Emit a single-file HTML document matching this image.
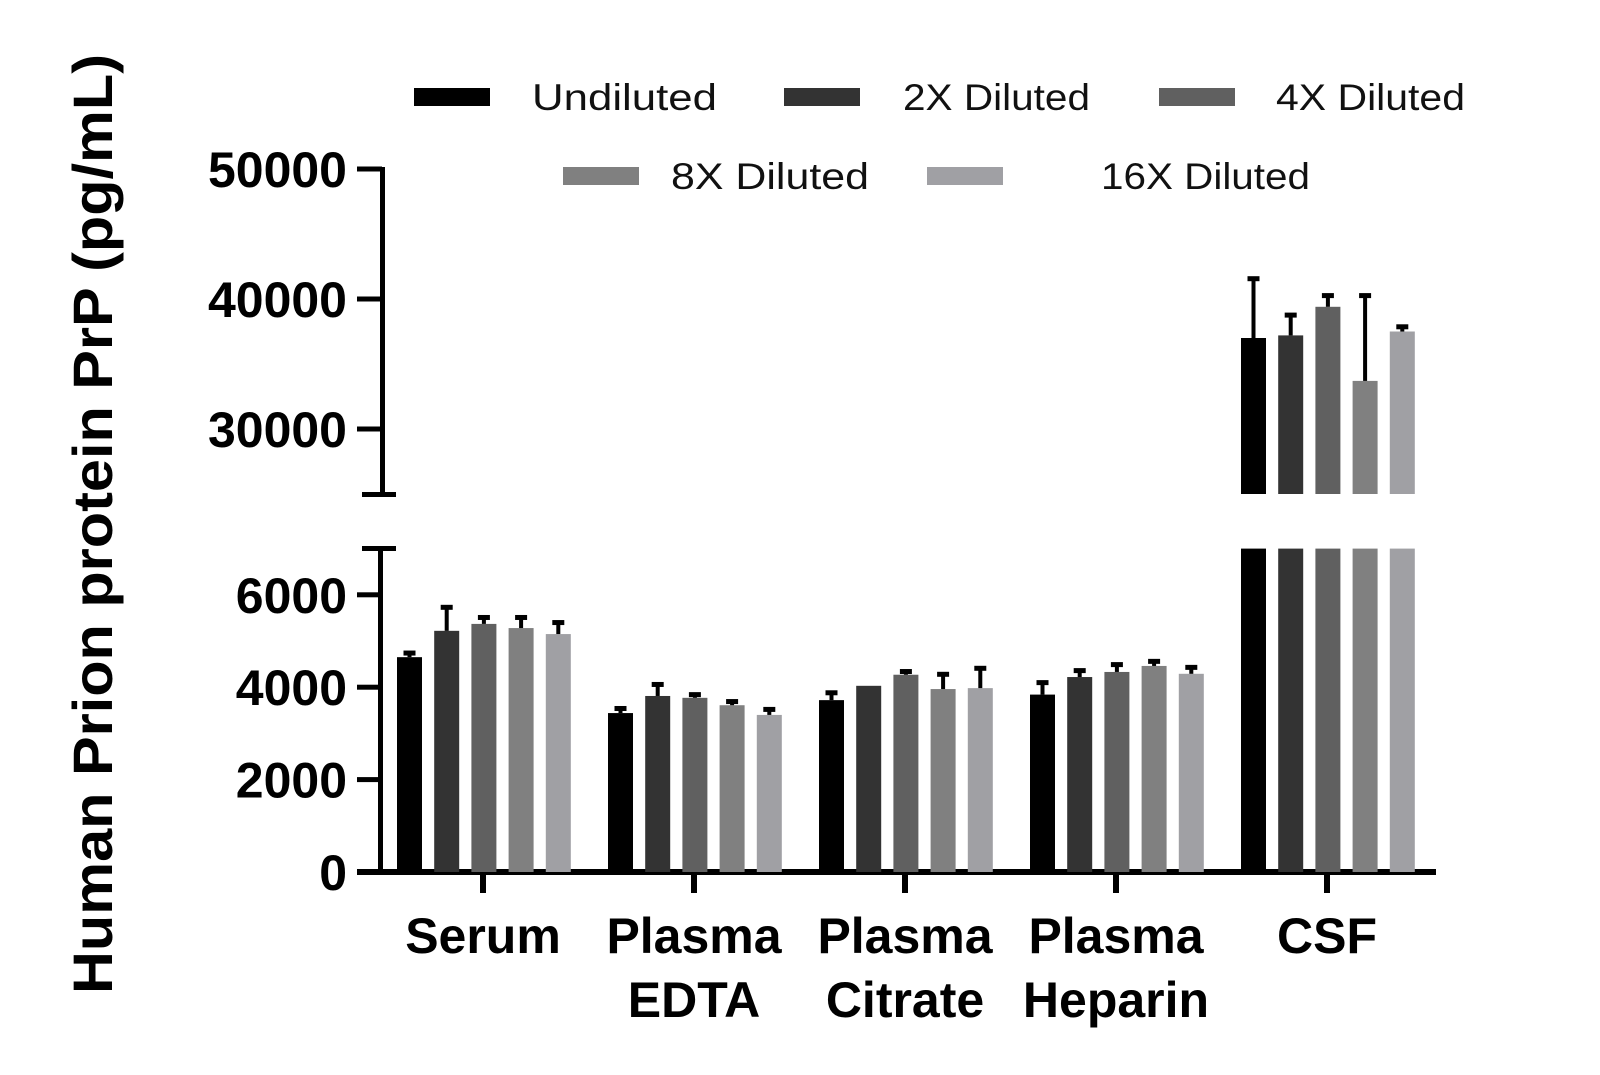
<!DOCTYPE html>
<html><head><meta charset="utf-8"><style>
html,body{margin:0;padding:0;background:#fff;}
svg{display:block;font-family:"Liberation Sans",sans-serif;}
</style></head><body>
<svg id="chart" width="1600" height="1075" viewBox="0 0 1600 1075" xmlns="http://www.w3.org/2000/svg">
<g id="axes"></g>
<g id="bars"></g>
<g id="legend"></g>
<text transform="translate(112,524) rotate(-90)" text-anchor="middle" font-size="56" font-weight="bold" textLength="940" lengthAdjust="spacingAndGlyphs">Human Prion protein PrP (pg/mL)</text>
</svg>
<script>
const categories = [["Serum"],["Plasma","EDTA"],["Plasma","Citrate"],["Plasma","Heparin"],["CSF"]];
const seriesNames = ["Undiluted","2X Diluted","4X Diluted","8X Diluted","16X Diluted"];
const undiluted = [4650, 3440, 3720, 3840, 37000];
const diluted2x = [5220, 3810, 4030, 4220, 37200];
const diluted4x = [5370, 3770, 4270, 4330, 39400];
const diluted8x = [5280, 3610, 3960, 4460, 33700];
const diluted16x = [5150, 3400, 3980, 4290, 37500];
const errUndiluted = [100, 110, 170, 270, 4600];
const err2x = [520, 260, 0, 150, 1600];
const err4x = [150, 80, 80, 170, 900];
const err8x = [240, 90, 330, 110, 6600];
const err16x = [260, 130, 440, 150, 400];
const lowerTicks = [0, 2000, 4000, 6000];
const upperTicks = [30000, 40000, 50000];

const series = [undiluted, diluted2x, diluted4x, diluted8x, diluted16x];
const errors = [errUndiluted, err2x, err4x, err8x, err16x];
const colors = ["#000000","#333333","#606060","#808080","#a0a0a4"];
const NS = "http://www.w3.org/2000/svg";
const LOW_MAX = 7000, HIGH_MIN = 25000;
const base = 872;
function yLow(v){ return base - Math.min(v, LOW_MAX) * 0.0462; }
function yHigh(v){ return 494 - (v - HIGH_MIN) * 0.013; }
function xGroup(i){ return 483 + i * 211; }
function xBar(i, s){ return xGroup(i) - 86 + s * 37.2; }
function mk(tag, attrs, parent){ const e = document.createElementNS(NS, tag); for (const k in attrs) e.setAttribute(k, attrs[k]); parent.appendChild(e); return e; }

const axes = document.getElementById('axes');
const barsG = document.getElementById('bars');
const legend = document.getElementById('legend');

// upper axis
let el = mk('rect', {x:380, y:167, width:5, height:329, fill:'#000'}, axes);


el = mk('rect', {x:362, y:492, width:34, height:5, fill:'#000'}, axes);


upperTicks.forEach(t => {
  const y = yHigh(t);
  const tk = mk('rect', {x:357, y:y-2.5, width:25, height:5, fill:'#000'}, axes);
  
  
  const lb = mk('text', {x:347, y:y+18, 'text-anchor':'end', 'font-size':50, 'font-weight':'bold'}, axes);
  lb.textContent = t;
  
  
});
// lower axis
el = mk('rect', {x:378, y:546, width:5, height:329, fill:'#000'}, axes);


el = mk('rect', {x:362, y:546, width:34, height:5, fill:'#000'}, axes);


lowerTicks.forEach(t => {
  const y = yLow(t);
  const tk = mk('rect', {x:357, y:y-2.5, width:23, height:5, fill:'#000'}, axes);
  
  
  const lb = mk('text', {x:347, y:y+18, 'text-anchor':'end', 'font-size':50, 'font-weight':'bold'}, axes);
  lb.textContent = t;
  
  
});
el = mk('rect', {x:357, y:base-3, width:1079, height:6, fill:'#000'}, axes);


categories.forEach((c, i) => {
  const tk = mk('rect', {x:xGroup(i)-3, y:base, width:6, height:21, fill:'#000'}, axes);
  
  
  c.forEach((line, j) => {
    const lb = mk('text', {x:xGroup(i), y:953 + j*64, 'text-anchor':'middle', 'font-size':50, 'font-weight':'bold'}, axes);
    lb.textContent = line;
    
    
  });
});

// bars
series.forEach((vals, s) => {
  vals.forEach((v, i) => {
    const x = xBar(i, s), w = 25, cx = x + w/2;
    const top = v + errors[s][i];
    if (v > LOW_MAX) {
      const b1 = mk('rect', {x:x, y:yLow(LOW_MAX), width:w, height:base - yLow(LOW_MAX), fill:colors[s]}, barsG);
      
      
      const b2 = mk('rect', {x:x, y:yHigh(v), width:w, height:494 - yHigh(v), fill:colors[s]}, barsG);
      
      
      if (errors[s][i] > 0) {
        const e = mk('rect', {x:cx-2, y:yHigh(top), width:4, height:yHigh(v)-yHigh(top), fill:'#000'}, barsG);
        
        
        const cp = mk('rect', {x:cx-6, y:yHigh(top)-2, width:12, height:5, fill:'#000'}, barsG);
        
        
      }
    } else {
      const b = mk('rect', {x:x, y:yLow(v), width:w, height:base - yLow(v), fill:colors[s]}, barsG);
      
      
      if (errors[s][i] > 0) {
        const e = mk('rect', {x:cx-2, y:yLow(top), width:4, height:yLow(v)-yLow(top), fill:'#000'}, barsG);
        
        
        const cp = mk('rect', {x:cx-6, y:yLow(top)-2, width:12, height:5, fill:'#000'}, barsG);
        
        
      }
    }
  });
});

// legend
const legSw = [[414,88],[784,88],[1159,88],[563,167],[927,167]];
const legTx = [[532,185],[903,187],[1276,189],[671,198],[1101,209]];
seriesNames.forEach((n, s) => {
  const sw = mk('rect', {x:legSw[s][0], y:legSw[s][1], width:76, height:18, fill:colors[s]}, legend);
  
  
  const t = mk('text', {x:legTx[s][0], y:legSw[s][1]+22, 'font-size':37, fill:'#111', textLength:legTx[s][1], lengthAdjust:'spacingAndGlyphs'}, legend);
  t.textContent = n;
  
  
});
</script>
</body></html>
